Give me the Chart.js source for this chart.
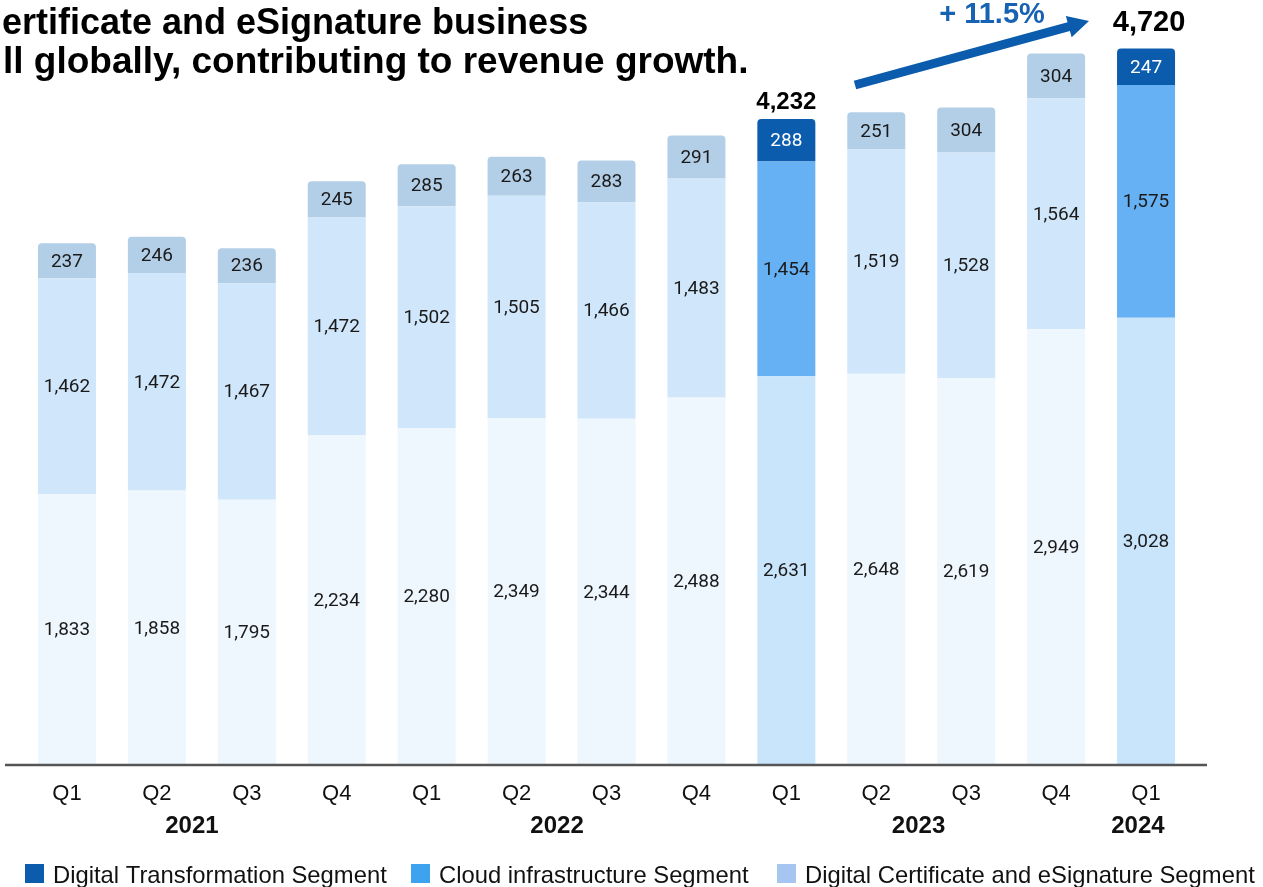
<!DOCTYPE html>
<html lang="en">
  <head>
    <meta charset="UTF-8" />
    <title>Quarterly revenue by segment</title>
    <style>
      body {
        margin: 0;
        background: #fff;
      }
      #wrap {
        width: 1263px;
        height: 887px;
      }
    </style>
  </head>
  <body>
    <div id="wrap"><canvas id="revChart" width="1263" height="887"></canvas></div>

    <script src="https://cdn.jsdelivr.net/npm/chart.js"></script>
    <script>
      const quarters = ["Q1", "Q2", "Q3", "Q4", "Q1", "Q2", "Q3", "Q4", "Q1", "Q2", "Q3", "Q4", "Q1"];
      const years = ["2021", "2022", "2023", "2024"];
      const certificate = [1833, 1858, 1795, 2234, 2280, 2349, 2344, 2488, 2631, 2648, 2619, 2949, 3028];
      const cloud = [1462, 1472, 1467, 1472, 1502, 1505, 1466, 1483, 1454, 1519, 1528, 1564, 1575];
      const transformation = [237, 246, 236, 245, 285, 263, 283, 291, 288, 251, 304, 304, 247];
      const totals = [null, null, null, null, null, null, null, null, "4,232", null, null, null, "4,720"];
      const growthLabel = "+ 11.5%";

      // bars with a stated total get the strong colours
      const highlight = totals.map((t) => t !== null);
      const pick = (on, off) => highlight.map((h) => (h ? on : off));

      // where each year label sits, in category units
      const yearAt = [1.39, 5.45, 9.47, 11.91];

      const legendItems = [
        { text: "Digital Transformation Segment", color: "#0b5cad", x: 25 },
        { text: "Cloud infrastructure Segment", color: "#3da3ee", x: 411 },
        { text: "Digital Certificate and eSignature Segment", color: "#a6c5f1", x: 777 },
      ];

      const BASE = '"Liberation Sans", Arial, sans-serif';

      const decor = {
        id: "decor",
        afterDatasetsDraw(chart) {
          const ctx = chart.ctx;
          const x = chart.scales.x;
          const bottom = chart.chartArea.bottom;

          // value labels inside segments
          ctx.save();
          ctx.textAlign = "center";
          ctx.textBaseline = "middle";
          ctx.font = "19px Roboto, sans-serif";
          chart.data.datasets.forEach((ds, di) => {
            chart.getDatasetMeta(di).data.forEach((bar, i) => {
              const mid = (bar.y + bar.base) / 2;
              ctx.fillStyle = di === 2 && highlight[i] ? "#ffffff" : "#1a1a1a";
              ctx.fillText(ds.data[i].toLocaleString("en-US"), bar.x, mid + 1);
            });
          });

          // totals above highlighted stacks
          const topMeta = chart.getDatasetMeta(2).data;
          totals.forEach((t, i) => {
            if (t === null) return;
            const big = i === totals.length - 1;
            ctx.font = "bold " + (big ? 29 : 24) + "px " + BASE;
            ctx.fillStyle = "#000";
            ctx.textBaseline = "alphabetic";
            ctx.fillText(t, topMeta[i].x + (big ? 3 : 0), topMeta[i].y - (big ? 18 : 10));
          });

          // baseline
          ctx.strokeStyle = "#555";
          ctx.lineWidth = 2.5;
          ctx.beginPath();
          ctx.moveTo(5, bottom);
          ctx.lineTo(1207, bottom);
          ctx.stroke();

          // quarter and year labels
          ctx.fillStyle = "#111";
          ctx.textBaseline = "middle";
          ctx.font = "22px " + BASE;
          quarters.forEach((q, i) => ctx.fillText(q, x.getPixelForValue(i), bottom + 29));
          ctx.font = "bold 24px " + BASE;
          years.forEach((y, i) => ctx.fillText(y, x.getPixelForValue(yearAt[i]), bottom + 61));

          // growth arrow
          const tail = [855, 85];
          const tip = [1089, 21];
          const dx = tip[0] - tail[0];
          const dy = tip[1] - tail[1];
          const len = Math.hypot(dx, dy);
          const ux = dx / len;
          const uy = dy / len;
          const nx = -uy;
          const ny = ux;
          const headLen = 21;
          const hx = tip[0] - ux * headLen;
          const hy = tip[1] - uy * headLen;
          ctx.fillStyle = "#0b5cad";
          ctx.beginPath();
          ctx.moveTo(tail[0] + nx * 4.5, tail[1] + ny * 4.5);
          ctx.lineTo(hx + nx * 4.5, hy + ny * 4.5);
          ctx.lineTo(hx + nx * 11, hy + ny * 11);
          ctx.lineTo(tip[0], tip[1]);
          ctx.lineTo(hx - nx * 11, hy - ny * 11);
          ctx.lineTo(hx - nx * 4.5, hy - ny * 4.5);
          ctx.lineTo(tail[0] - nx * 4.5, tail[1] - ny * 4.5);
          ctx.closePath();
          ctx.fill();

          ctx.fillStyle = "#1862b4";
          ctx.font = "bold 29px " + BASE;
          ctx.textBaseline = "alphabetic";
          ctx.fillText(growthLabel, 992, 23);

          // heading, cut off at the left edge
          ctx.fillStyle = "#000";
          ctx.textAlign = "left";
          ctx.font = "bold 36px " + BASE;
          ctx.fillText("ertificate and eSignature business", 2, 34);
          ctx.font = "bold 37px " + BASE;
          ctx.fillText("ll globally, contributing to revenue growth.", 3, 73);

          // legend
          ctx.font = "23.8px " + BASE;
          legendItems.forEach((item) => {
            ctx.fillStyle = item.color;
            ctx.fillRect(item.x, 864, 19, 19);
            ctx.fillStyle = "#111";
            ctx.fillText(item.text, item.x + 28, 883);
          });
          ctx.restore();
        },
      };

      const ctx = document.getElementById("revChart").getContext("2d");
      new Chart(ctx, {
        type: "bar",
        data: {
          labels: quarters,
          datasets: [
            {
              label: "Digital Certificate and eSignature Segment",
              data: certificate,
              backgroundColor: pick("#c9e5fc", "#eef6fe"),
            },
            {
              label: "Cloud infrastructure Segment",
              data: cloud,
              backgroundColor: pick("#66b1f4", "#d0e6fa"),
            },
            {
              label: "Digital Transformation Segment",
              data: transformation,
              backgroundColor: pick("#0c5cae", "#b3cfe8"),
              borderRadius: { topLeft: 4, topRight: 4, bottomLeft: 0, bottomRight: 0 },
              borderSkipped: false,
            },
          ],
        },
        options: {
          responsive: false,
          animation: false,
          layout: { padding: { left: 22, right: 72, top: 26.4, bottom: 122 } },
          datasets: { bar: { barPercentage: 0.645, categoryPercentage: 1 } },
          scales: {
            x: { stacked: true, display: false },
            y: { stacked: true, display: false, min: 0, max: 5000 },
          },
          plugins: {
            legend: { display: false },
            tooltip: { enabled: false },
          },
        },
        plugins: [decor],
      });
    </script>
  </body>
</html>
